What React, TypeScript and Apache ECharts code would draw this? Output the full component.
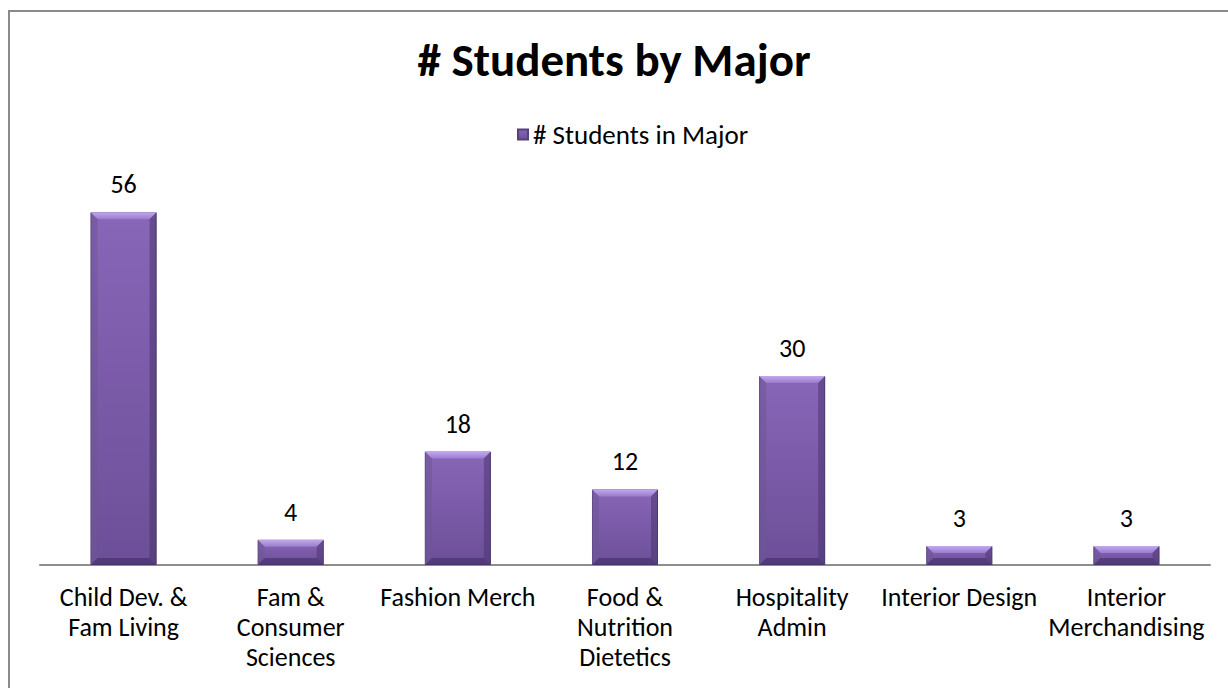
import React, { useEffect, useRef } from "react";
import * as echarts from "echarts";

const categories = [
  "Child Dev. &\nFam Living",
  "Fam &\nConsumer\nSciences",
  "Fashion Merch",
  "Food &\nNutrition\nDietetics",
  "Hospitality\nAdmin",
  "Interior Design",
  "Interior\nMerchandising",
];
const students = [56, 4, 18, 12, 30, 3, 3];
const seriesName = "# Students in Major";
const titleText = "# Students by Major";

const FONT = "Carlito, Calibri, Lato, 'Open Sans', sans-serif";

export default function App() {
  const ref = useRef<HTMLDivElement>(null);
  useEffect(() => {
    if (!ref.current) return;
    const chart = echarts.init(ref.current, undefined, { renderer: "svg" });
    const bevel = 7;
    chart.setOption({
      animation: false,
      backgroundColor: "#ffffff",
      title: {
        text: titleText,
        left: "center",
        top: 31,
        textStyle: { fontFamily: FONT, fontSize: 47, fontWeight: "bold", color: "#000" },
      },
      legend: {
        top: 116,
        left: 512,
        itemWidth: 10,
        itemHeight: 10,
        itemGap: 11,
        icon: "rect",
        data: [seriesName],
        textStyle: { fontFamily: FONT, fontSize: 27, color: "#000" },
      },
      grid: { left: 40, right: 18, top: 187, bottom: 123, containLabel: false },
      xAxis: {
        type: "category",
        data: categories,
        axisLine: { show: true, lineStyle: { color: "#8e8e8e", width: 2 } },
        axisTick: { show: false },
        axisLabel: {
          interval: 0,
          margin: 17,
          fontFamily: FONT,
          fontSize: 26,
          lineHeight: 30,
          color: "#000",
          verticalAlign: "top",
        },
      },
      yAxis: {
        type: "value",
        min: 0,
        max: 60,
        show: false,
        splitLine: { show: false },
      },
      graphic: [
        { type: "line", shape: { x1: 8, y1: 11, x2: 1228, y2: 11 }, style: { stroke: "#8a8a8a", lineWidth: 2 } },
        { type: "line", shape: { x1: 9, y1: 10, x2: 9, y2: 688 }, style: { stroke: "#8a8a8a", lineWidth: 2 } },
      ],
      series: [
        {
          name: seriesName,
          type: "bar",
          data: students,
          barWidth: "39.5%",
          itemStyle: {
            color: new echarts.graphic.LinearGradient(0, 0, 0, 1, [
              { offset: 0, color: "#8866b8" },
              { offset: 1, color: "#6c4f98" },
            ]),
            borderColor: "#54407a",
            borderWidth: 1,
          },
          label: {
            show: true,
            position: "top",
            distance: 15,
            fontFamily: FONT,
            fontSize: 26,
            color: "#000",
          },
        },
        {
          type: "custom",
          silent: true,
          z: 3,
          data: students.map((v, i) => [i, v]),
          renderItem: (params: any, api: any) => {
            const i = api.value(0);
            const v = api.value(1);
            const top = api.coord([i, v]);
            const base = api.coord([i, 0]);
            const size = api.size([1, 0]);
            const w = size[0] * 0.395;
            const x0 = top[0] - w / 2;
            const x1 = top[0] + w / 2;
            const y0 = top[1];
            const y1 = base[1];
            const b = Math.min(bevel, (y1 - y0) / 2);
            return {
              type: "group",
              children: [
                {
                  type: "polygon",
                  shape: { points: [[x0, y0], [x1, y0], [x1 - b, y0 + b], [x0 + b, y0 + b]] },
                  style: {
                    fill: new echarts.graphic.LinearGradient(0, 0, 0, 1, [
                      { offset: 0, color: "#c2a9ee" },
                      { offset: 1, color: "#9a7bcc" },
                    ]),
                  },
                },
                {
                  type: "polygon",
                  shape: { points: [[x0, y0], [x0 + b, y0 + b], [x0 + b, y1 - b], [x0, y1]] },
                  style: { fill: "rgba(110,85,150,0.55)" },
                },
                {
                  type: "polygon",
                  shape: { points: [[x1, y0], [x1 - b, y0 + b], [x1 - b, y1 - b], [x1, y1]] },
                  style: { fill: "rgba(70,50,105,0.5)" },
                },
                {
                  type: "polygon",
                  shape: { points: [[x0, y1], [x0 + b, y1 - b], [x1 - b, y1 - b], [x1, y1]] },
                  style: { fill: "rgba(60,42,95,0.55)" },
                },
              ],
            };
          },
        },
      ],
    });
    return () => chart.dispose();
  }, []);
  return (
    <div
      ref={ref}
      style={{ position: "absolute", left: 0, top: 0, width: 1228, height: 688 }}
    />
  );
}
